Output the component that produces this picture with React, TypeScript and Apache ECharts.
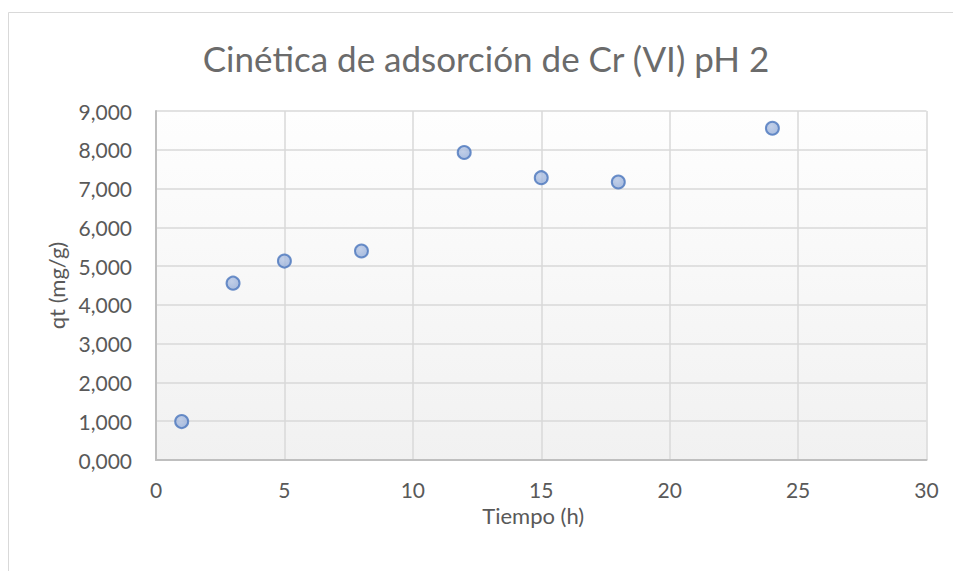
import React, { useEffect, useRef } from "react";
import * as echarts from "echarts";

const titleText = "Cinética de adsorción de Cr (VI) pH 2";
const xAxisName = "Tiempo (h)";
const yAxisName = "qt (mg/g)";
const timeHours = [1, 3, 5, 8, 12, 15, 18, 24];
const qtValues = [0.99, 4.56, 5.13, 5.39, 7.93, 7.28, 7.17, 8.555];

const FONT = "Lato, 'Open Sans', sans-serif";
const TEXT = "#595959";

export default function App() {
  const ref = useRef<HTMLDivElement>(null);
  useEffect(() => {
    if (!ref.current) return;
    const chart = echarts.init(ref.current, null, { renderer: "svg" });
    const points = timeHours.map((t, i) => [t, qtValues[i]]);
    chart.setOption({
      animation: false,
      backgroundColor: "#ffffff",
      textStyle: { fontFamily: FONT },
      graphic: [
        {
          type: "rect",
          shape: { x: 8.5, y: 12.5, width: 1200, height: 800 },
          style: { fill: "none", stroke: "#d9d9d9", lineWidth: 1 },
          silent: true,
          z: -1,
        },
        {
          type: "text",
          x: 486,
          y: 58,
          style: {
            text: titleText,
            fill: "#6b6b6b",
            font: `35px ${FONT}`,
            textAlign: "center",
            textVerticalAlign: "middle",
          },
        },
      ],
      grid: {
        left: 156,
        top: 111,
        right: 26.5,
        bottom: 111,
        show: true,
        borderWidth: 0,
        backgroundColor: new echarts.graphic.LinearGradient(0, 0, 0, 1, [
          { offset: 0, color: "#fefefe" },
          { offset: 1, color: "#f1f1f1" },
        ]),
      },
      xAxis: {
        type: "value",
        min: 0,
        max: 30,
        interval: 5,
        name: xAxisName,
        nameLocation: "middle",
        nameGap: 32,
        nameTextStyle: { color: TEXT, fontSize: 22, fontFamily: FONT, padding: [0, 16, 0, 0] },
        axisLine: { show: true, lineStyle: { color: "#bfbfbf", width: 2 } },
        axisTick: { show: false },
        axisLabel: { color: TEXT, fontSize: 21, fontFamily: FONT, margin: 19 },
        splitLine: { show: true, lineStyle: { color: "#d9d9d9", width: 1.5 } },
      },
      yAxis: {
        type: "value",
        min: 0,
        max: 9,
        interval: 1,
        name: yAxisName,
        nameLocation: "middle",
        nameRotate: 90,
        nameGap: 87,
        nameTextStyle: { color: TEXT, fontSize: 22, fontFamily: FONT },
        axisLine: { show: true, lineStyle: { color: "#bfbfbf", width: 2 } },
        axisTick: { show: false },
        axisLabel: {
          color: TEXT,
          fontSize: 21,
          fontFamily: FONT,
          margin: 24,
          formatter: (v: number) => v.toFixed(3).replace(".", ","),
        },
        splitLine: { show: true, lineStyle: { color: "#d9d9d9", width: 1.5 } },
      },
      series: [
        {
          type: "scatter",
          data: points,
          symbol: "circle",
          symbolSize: 13,
          itemStyle: {
            color: new echarts.graphic.RadialGradient(0.4, 0.35, 0.8, [
              { offset: 0, color: "#b4c5e4" },
              { offset: 1, color: "#8ea8d6" },
            ]),
            borderColor: "#4a76bd",
            borderWidth: 2,
          },
        },
      ],
    });
    return () => chart.dispose();
  }, []);
  return (
    <div
      ref={ref}
      style={{ position: "fixed", left: 0, top: 0, width: 953, height: 571 }}
    />
  );
}
